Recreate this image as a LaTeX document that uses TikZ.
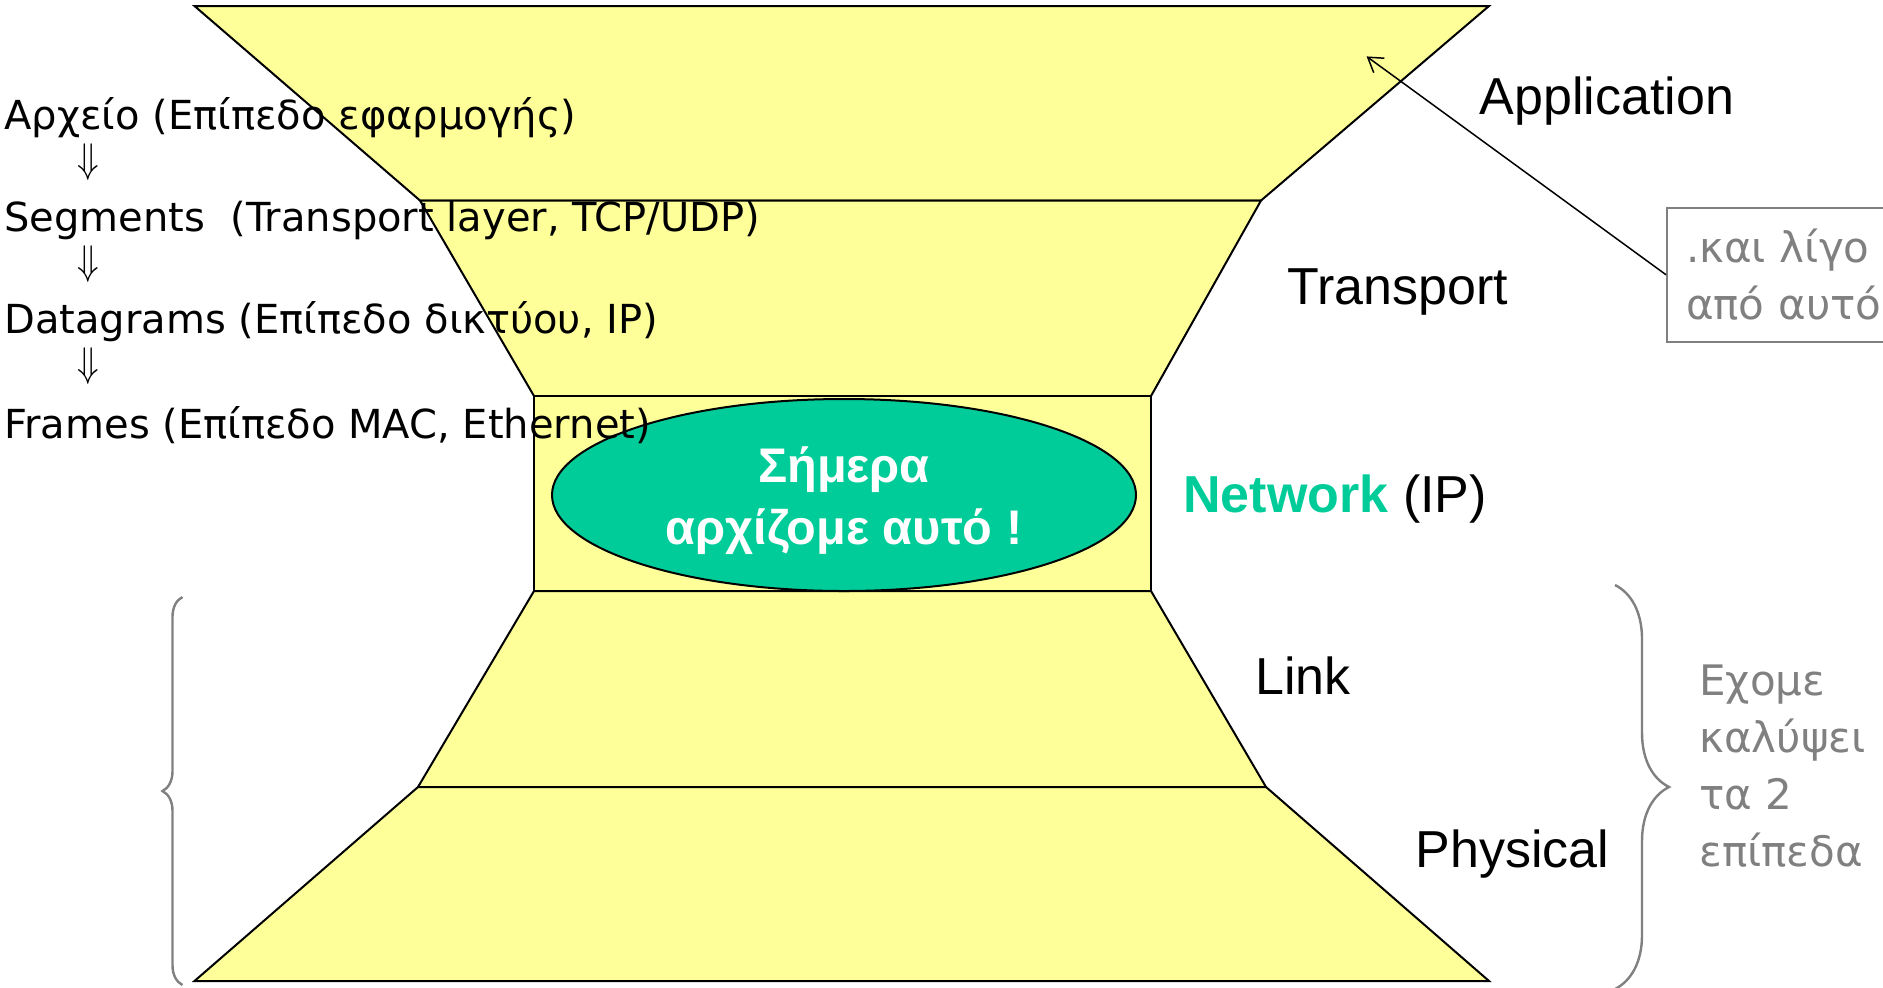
\documentclass[tikz,border=0pt]{standalone}
\usepackage{fontspec}
\setmainfont{Liberation Sans}
\newfontfamily\comicf{DejaVu Sans}
\usetikzlibrary{arrows.meta,decorations.pathreplacing,shapes.geometric}
\definecolor{layeryellow}{HTML}{FFFF99}
\definecolor{netgreen}{HTML}{00CC99}
\definecolor{notegray}{HTML}{808080}
\begin{document}
\begin{tikzpicture}[x=0.5pt,y=-0.5pt,
  layer/.style={draw=black, line width=1pt, fill=layeryellow, line join=miter},
  lbl/.style={anchor=west, inner sep=0pt, font=\fontsize{26}{31}\selectfont},
  steptext/.style={anchor=west, inner sep=0pt, font=\comicf\fontsize{20}{24}\selectfont},
  downarr/.style={inner sep=0pt, font=\fontsize{20}{24}\selectfont},
  note/.style={text=notegray, font=\comicf\fontsize{21}{28.5}\selectfont},
  bracestyle/.style={draw=notegray, line width=1.2pt, decorate}]
\useasboundingbox (0,0) rectangle (1883,987);
\clip (0,0) rectangle (1883,987);
% layers
\path[layer] (194.5,6) -- (1489,6) -- (1261,200.5) -- (420,200.5) -- cycle;
\path[layer] (420,200.5) -- (1261,200.5) -- (1151,396) -- (534,396) -- cycle;
\path[layer] (534,396) rectangle (1151,591);
\path[layer] (534,591) -- (1151,591) -- (1266,787) -- (418,787) -- cycle;
\path[layer] (418,787) -- (1266,787) -- (1489,981) -- (194.5,981) -- cycle;
% ellipse
\node[ellipse, draw=black, line width=1pt, fill=netgreen, minimum width=292pt, minimum height=96pt,
  inner sep=0pt] (today) at (844,495) {};
\node[inner sep=0pt, text=white, align=center, font=\bfseries\fontsize{24.3}{31}\selectfont]
  (todaytext) at (844,501) {Σήμερα\\αρχίζομε αυτό !};
% layer labels
\node[lbl] (app) at (1479.5,101) {Application};
\node[lbl] (trans) at (1287,292) {Transport};
\node[lbl] (net) at (1183,499) {\textcolor{netgreen}{\bfseries Network} (IP)};
\node[lbl] (link) at (1255,676) {Link};
\node[lbl] (phys) at (1415,854) {Physical};
% left steps
\node[steptext] (s1) at (4,118) {Αρχείο (Επίπεδο εφαρμογής)};
\node[downarr] (a1) at (88,162) {\scalebox{0.85}[1.0]{$\Downarrow$}};
\node[steptext] (s2) at (4,220) {Segments\ \ (Transport layer, TCP/UDP)};
\node[downarr] (a2) at (88,264) {\scalebox{0.85}[1.0]{$\Downarrow$}};
\node[steptext] (s3) at (4,322) {Datagrams (Επίπεδο δικτύου, IP)};
\node[downarr] (a3) at (88,366) {\scalebox{0.85}[1.0]{$\Downarrow$}};
\node[steptext] (s4) at (4,425) {Frames (Επίπεδο MAC, Ethernet)};
% note box and arrow
\node[note, draw=notegray, line width=1pt, anchor=north west, minimum width=150pt, minimum height=67.25pt,
  inner xsep=9.5pt, inner ysep=0pt, text width=131pt, align=left] (box) at (1666,206.5)
  {.και λίγο\\από αυτό};
\coordinate (apptip) at (1366.6,56.4);
\draw[line width=0.75pt, -{Straight Barb[length=7pt,width=9pt]}] (box.west) -- (apptip);
% braces
\draw[bracestyle, decoration={brace, amplitude=27pt}] (1615,585) -- (1615,989);
\draw[bracestyle, decoration={brace, amplitude=10pt}] (182.5,985) -- (182.5,597);
\node[note, anchor=west, inner sep=0pt, align=left] (covered) at (1699,766.5)
  {Εχομε\\καλύψει\\τα 2\\επίπεδα};
\end{tikzpicture}
\end{document}
